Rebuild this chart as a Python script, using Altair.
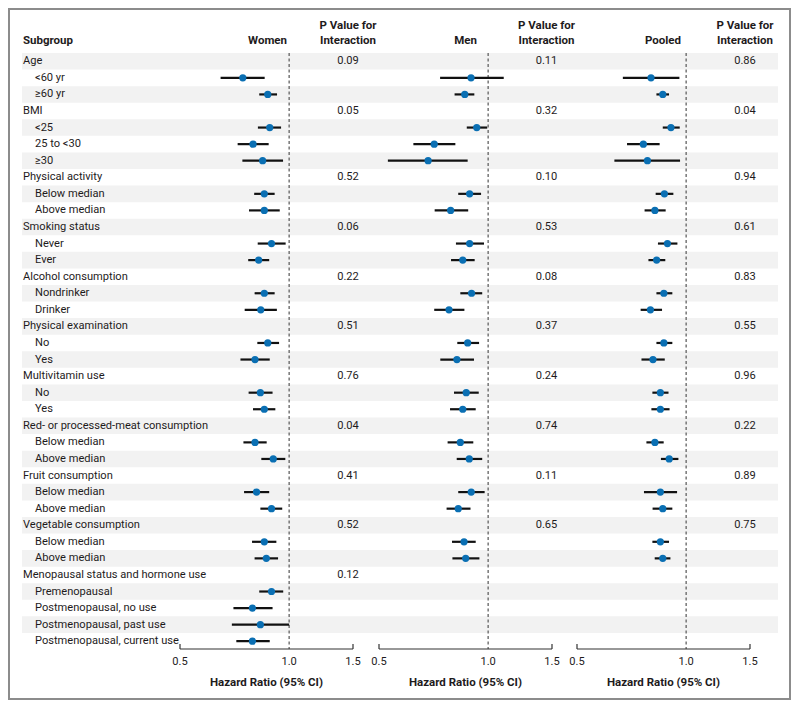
import altair as alt
import pandas as pd

# ---------------- data ----------------
labels = ["Age", "<60 yr", "≥60 yr",
          "BMI", "<25", "25 to <30", "≥30",
          "Physical activity", "Below median", "Above median",
          "Smoking status", "Never", "Ever",
          "Alcohol consumption", "Nondrinker", "Drinker",
          "Physical examination", "No", "Yes",
          "Multivitamin use", "No", "Yes",
          "Red- or processed-meat consumption", "Below median", "Above median",
          "Fruit consumption", "Below median", "Above median",
          "Vegetable consumption", "Below median", "Above median",
          "Menopausal status and hormone use", "Premenopausal",
          "Postmenopausal, no use", "Postmenopausal, past use",
          "Postmenopausal, current use"]
levels = [0, 1, 1, 0, 1, 1, 1, 0, 1, 1, 0, 1, 1, 0, 1, 1, 0, 1, 1,
          0, 1, 1, 0, 1, 1, 0, 1, 1, 0, 1, 1, 0, 1, 1, 1, 1]

N = None
women_hr = [N, 0.745, 0.873, N, 0.884, 0.795, 0.845, N, 0.854, 0.854, N, 0.894, 0.824,
            N, 0.854, 0.835, N, 0.873, 0.805, N, 0.833, 0.854, N, 0.805, 0.904,
            N, 0.813, 0.894, N, 0.854, 0.865, N, 0.894, 0.792, 0.833, 0.792]
women_lo = [N, 0.647, 0.827, N, 0.820, 0.721, 0.743, N, 0.801, 0.775, N, 0.819, 0.771,
            N, 0.803, 0.754, N, 0.817, 0.734, N, 0.773, 0.795, N, 0.748, 0.838,
            N, 0.751, 0.833, N, 0.790, 0.803, N, 0.827, 0.702, 0.695, 0.715]
women_hi = [N, 0.856, 0.926, N, 0.950, 0.878, 0.962, N, 0.912, 0.942, N, 0.978, 0.881,
            N, 0.912, 0.925, N, 0.938, 0.884, N, 0.900, 0.916, N, 0.867, 0.976,
            N, 0.881, 0.957, N, 0.922, 0.932, N, 0.963, 0.900, 1.000, 0.884]

men_hr = [N, 0.897, 0.862, N, 0.930, 0.710, 0.683, N, 0.889, 0.788, N, 0.889, 0.851,
          N, 0.900, 0.780, N, 0.878, 0.820, N, 0.870, 0.851, N, 0.838, 0.887,
          N, 0.898, 0.827, N, 0.858, 0.867, N, N, N, N, N]
men_lo = [N, 0.737, 0.808, N, 0.873, 0.622, 0.529, N, 0.827, 0.712, N, 0.815, 0.790,
          N, 0.838, 0.710, N, 0.822, 0.738, N, 0.805, 0.785, N, 0.773, 0.819,
          N, 0.827, 0.768, N, 0.795, 0.797, N, N, N, N, N]
men_hi = [N, 1.104, 0.916, N, 0.994, 0.812, 0.878, N, 0.956, 0.881, N, 0.974, 0.918,
          N, 0.963, 0.860, N, 0.944, 0.914, N, 0.942, 0.924, N, 0.910, 0.963,
          N, 0.978, 0.894, N, 0.924, 0.946, N, N, N, N, N]

pooled_hr = [N, 0.800, 0.862, N, 0.908, 0.762, 0.782, N, 0.871, 0.820, N, 0.888, 0.829,
             N, 0.868, 0.797, N, 0.868, 0.810, N, 0.849, 0.849, N, 0.820, 0.898,
             N, 0.849, 0.862, N, 0.849, 0.862, N, N, N, N, N]
pooled_lo = [N, 0.669, 0.828, N, 0.862, 0.687, 0.634, N, 0.824, 0.768, N, 0.836, 0.787,
             N, 0.828, 0.749, N, 0.828, 0.753, N, 0.807, 0.802, N, 0.777, 0.852,
             N, 0.765, 0.808, N, 0.807, 0.819, N, N, N, N, N]
pooled_hi = [N, 0.958, 0.897, N, 0.960, 0.845, 0.962, N, 0.922, 0.878, N, 0.946, 0.876,
             N, 0.916, 0.858, N, 0.916, 0.873, N, 0.894, 0.900, N, 0.867, 0.952,
             N, 0.944, 0.916, N, 0.897, 0.905, N, N, N, N, N]

p_women = ["0.09", "0.05", "0.52", "0.06", "0.22", "0.51", "0.76", "0.04", "0.41", "0.52", "0.12"]
p_men = ["0.11", "0.32", "0.10", "0.53", "0.08", "0.37", "0.24", "0.74", "0.11", "0.65"]
p_pooled = ["0.86", "0.04", "0.94", "0.61", "0.83", "0.55", "0.96", "0.22", "0.89", "0.75"]

tick_values = [0.5, 1.0, 1.5]
ref_value = [1.0]
panel_names = ["Women", "Men", "Pooled"]
p_header = ["P Value for", "Interaction"]
axis_title = "Hazard Ratio (95% CI)"

# ---------------- style / layout ----------------
OX, OY = 9, 9          # page position of the plot origin
FONT = "Roboto"
FS = 11.1
FSB = 11.5
TXT = "#1e1b1c"
BLUE = "#0a6fb3"
SHADE = "#f2f2f2"

rows = list(range(len(labels)))
yenc = alt.Y("row:O", axis=None,
             scale=alt.Scale(domain=rows, range=[53 - OY, 649.5 - OY],
                             paddingInner=0, paddingOuter=0))

df = pd.DataFrame({"row": rows, "label": labels, "level": levels})
one = pd.DataFrame({"k": [0]})

layers = []

# alternating row shading
layers.append(
    alt.Chart(df[df.row % 2 == 0]).mark_rect(color=SHADE).encode(
        x=alt.value(22 - OX), x2=alt.value(778 - OX), y=yenc)
)

# subgroup labels
layers.append(
    alt.Chart(df[df.level == 0]).mark_text(align="left", baseline="middle", font=FONT,
                                           fontSize=FS, color=TXT).encode(
        x=alt.value(23 - OX), y=yenc, text="label:N")
)
layers.append(
    alt.Chart(df[df.level == 1]).mark_text(align="left", baseline="middle", font=FONT,
                                           fontSize=FS, color=TXT).encode(
        x=alt.value(35 - OX), y=yenc, text="label:N")
)
layers.append(
    alt.Chart(one).mark_text(align="left", baseline="middle", font=FONT, fontSize=FSB,
                             fontWeight="bold", color=TXT).encode(
        x=alt.value(23 - OX), y=alt.value(41 - OY), text=alt.value("Subgroup"))
)

head_rows = [r for r, l in zip(rows, levels) if l == 0]

panels = [
    (panel_names[0], women_hr, women_lo, women_hi, p_women, 180, 353, 348, 287),
    (panel_names[1], men_hr, men_lo, men_hi, p_men, 379, 552, 546.5, 477),
    (panel_names[2], pooled_hr, pooled_lo, pooled_hi, p_pooled, 577, 750, 745, 681),
]

for name, hr, lo, hi, pv, x0, x1, pc, hright in panels:
    sc = alt.Scale(type="log", domain=[tick_values[0], tick_values[-1]],
                   range=[x0 - OX, x1 - OX])
    d = pd.DataFrame({"row": rows, "hr": hr, "lo": lo, "hi": hi}).dropna()
    ticks = pd.DataFrame({"v": tick_values})
    ends = pd.DataFrame({"v": [tick_values[0], tick_values[-1]]})
    ref = pd.DataFrame({"v": ref_value})
    pdf = pd.DataFrame({"row": head_rows[:len(pv)], "p": pv})

    # reference line at HR = 1
    layers.append(alt.Chart(ref).mark_rule(color="#6d6d6d", strokeWidth=1.4,
                                           strokeDash=[3, 2.5]).encode(
        x=alt.X("v:Q", scale=sc, axis=None),
        y=alt.value(53 - OY), y2=alt.value(649 - OY)))
    # confidence intervals
    layers.append(alt.Chart(d).mark_rule(color="#111111", strokeWidth=2.2).encode(
        x=alt.X("lo:Q", scale=sc, axis=None), x2="hi:Q", y=yenc))
    # point estimates
    layers.append(alt.Chart(d).mark_circle(color=BLUE, size=52, opacity=1).encode(
        x=alt.X("hr:Q", scale=sc, axis=None), y=yenc))
    # axis line
    layers.append(alt.Chart(ends.head(1)).mark_rule(color="#333333", strokeWidth=1.2).encode(
        x=alt.X(datum=tick_values[0], scale=sc, axis=None),
        x2=alt.X2(datum=tick_values[-1]),
        y=alt.value(649 - OY)))
    # end ticks
    layers.append(alt.Chart(ends).mark_rule(color="#333333", strokeWidth=1.2).encode(
        x=alt.X("v:Q", scale=sc, axis=None),
        y=alt.value(644 - OY), y2=alt.value(649 - OY)))
    # tick labels
    layers.append(alt.Chart(ticks).mark_text(baseline="middle", font=FONT, fontSize=FS,
                                             color=TXT).encode(
        x=alt.X("v:Q", scale=sc, axis=None), y=alt.value(662 - OY),
        text=alt.Text("v:Q", format=".1f")))
    # axis title
    layers.append(alt.Chart(one).mark_text(baseline="middle", font=FONT, fontSize=FSB,
                                           fontWeight="bold", color=TXT).encode(
        x=alt.value((x0 + x1) / 2 - OX), y=alt.value(683 - OY),
        text=alt.value(axis_title)))
    # panel header
    layers.append(alt.Chart(one).mark_text(align="right", baseline="middle", font=FONT,
                                           fontSize=FSB, fontWeight="bold", color=TXT).encode(
        x=alt.value(hright - OX), y=alt.value(41 - OY), text=alt.value(name)))
    # p value header
    for i, line in enumerate(p_header):
        layers.append(alt.Chart(one).mark_text(baseline="middle", font=FONT, fontSize=FSB,
                                               fontWeight="bold", color=TXT).encode(
            x=alt.value(pc - OX), y=alt.value(26 + 15 * i - OY), text=alt.value(line)))
    # p values
    layers.append(alt.Chart(pdf).mark_text(baseline="middle", font=FONT, fontSize=FS,
                                           color=TXT).encode(
        x=alt.value(pc - OX), y=yenc, text="p:N"))

chart = alt.layer(*layers).resolve_scale(x="independent").properties(
    width=781, height=690,
    padding={"left": 1, "top": 1, "right": 1, "bottom": 1},
    autosize=alt.AutoSizeParams(type="none"),
    background="white",
).configure_view(stroke="#8c8c8c", strokeWidth=2)

chart.save("out.html", embed_options={"renderer": "svg", "actions": False})
